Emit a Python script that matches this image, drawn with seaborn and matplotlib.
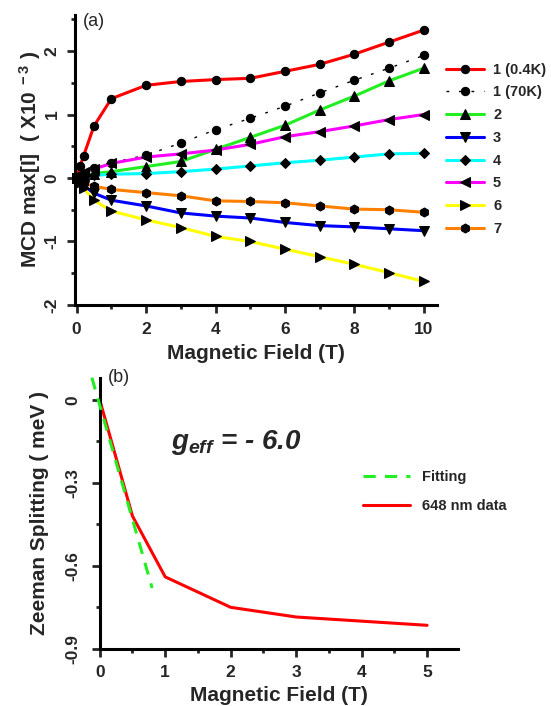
import matplotlib
matplotlib.use("Agg")
import matplotlib.pyplot as plt
import seaborn as sns
from matplotlib.ticker import MultipleLocator

# Panel (a) data: MCD max vs field
field = [0, 0.1, 0.2, 0.5, 1, 2, 3, 4, 5, 6, 7, 8, 9, 10]
mcd_1_04k = [0, 0.19, 0.35, 0.82, 1.25, 1.46, 1.52, 1.55, 1.57, 1.68, 1.79, 1.95, 2.14, 2.33]
mcd_1_70k = [0, 0.03, 0.06, 0.15, 0.24, 0.36, 0.55, 0.76, 0.94, 1.13, 1.34, 1.54, 1.73, 1.93]
mcd_2 = [0, 0.02, 0.04, 0.07, 0.10, 0.18, 0.26, 0.45, 0.64, 0.83, 1.07, 1.29, 1.53, 1.73]
mcd_3 = [0, -0.06, -0.12, -0.24, -0.35, -0.44, -0.55, -0.60, -0.63, -0.70, -0.75, -0.77, -0.80, -0.83]
mcd_4 = [0, 0.01, 0.02, 0.04, 0.06, 0.07, 0.10, 0.14, 0.19, 0.24, 0.28, 0.33, 0.38, 0.39]
mcd_5 = [0, 0.06, 0.10, 0.14, 0.23, 0.33, 0.38, 0.44, 0.53, 0.65, 0.73, 0.82, 0.92, 1.00]
mcd_6 = [0, -0.08, -0.16, -0.35, -0.52, -0.66, -0.78, -0.92, -1.00, -1.12, -1.24, -1.36, -1.49, -1.63]
mcd_7 = [0, -0.05, -0.08, -0.13, -0.18, -0.23, -0.28, -0.36, -0.37, -0.39, -0.44, -0.49, -0.50, -0.54]

# Panel (b) data: Zeeman splitting
field_b = [0, 0.5, 1, 2, 3, 4, 5]
zeeman = [0, -0.42, -0.64, -0.75, -0.785, -0.80, -0.815]
fit_field = [-0.12, 0.8]
fit_zeeman = [0.08, -0.68]

sns.set_style("ticks")
plt.rcParams['font.family'] = ['Liberation Sans', 'DejaVu Sans']
plt.rcParams['font.weight'] = 'bold'
plt.rcParams['axes.unicode_minus'] = False
plt.rcParams['mathtext.fontset'] = 'custom'
plt.rcParams['mathtext.rm'] = 'Liberation Sans:bold'
plt.rcParams['mathtext.it'] = 'Liberation Sans:italic:bold'
plt.rcParams['mathtext.bf'] = 'Liberation Sans:bold'

fig = plt.figure(figsize=(5.51, 7.06), dpi=100)
ax1 = fig.add_axes([0.136, 0.568, 0.657, 0.411])
ax2 = fig.add_axes([0.181, 0.081, 0.650, 0.384])

series = [
    (mcd_1_04k, '1 (0.4K)', 'red', 'o', '-'),
    (mcd_1_70k, '1 (70K)', 'black', 'o', (0, (2, 7))),
    (mcd_2, '2', '#22ee22', '^', '-'),
    (mcd_3, '3', 'blue', 'v', '-'),
    (mcd_4, '4', 'cyan', 'D', '-'),
    (mcd_5, '5', 'magenta', '<', '-'),
    (mcd_6, '6', 'yellow', '>', '-'),
    (mcd_7, '7', '#ff8000', 'h', '-'),
]

for vals, lab, col, mk, ls in series:
    lw = 1.0 if lab == '1 (70K)' else 2.2
    ms = {'o': 6, 'h': 6.5, 'D': 5.5}.get(mk, 7)
    sns.lineplot(x=field, y=vals, ax=ax1, color=col, linestyle=ls, linewidth=lw,
                 marker=mk, markersize=ms, markerfacecolor='black',
                 markeredgecolor='black', label=lab, clip_on=False)

ax1.set_xlim(-0.05, 10.38)
ax1.set_ylim(-2, 2.57)
ax1.xaxis.set_major_locator(MultipleLocator(2))
ax1.xaxis.set_minor_locator(MultipleLocator(1))
ax1.yaxis.set_major_locator(MultipleLocator(1))
ax1.yaxis.set_minor_locator(MultipleLocator(0.5))
ax1.set_xlabel('Magnetic Field (T)', fontsize=15, fontweight='bold', labelpad=5)
ax1.set_ylabel(r'MCD max[I]  ( X10$^{\ -3}$ )', fontsize=15, fontweight='bold', labelpad=1)
ax1.text(0.022, 0.976, '(a)', transform=ax1.transAxes, fontsize=13,
         fontweight='normal', va='center', ha='left')
ax1.legend(loc='upper left', bbox_to_anchor=(1.01, 0.855), frameon=False,
           fontsize=10.5, handlelength=2.6, labelspacing=0.6, handletextpad=0.6,
           borderaxespad=0)

# Panel (b)
sns.lineplot(x=fit_field, y=fit_zeeman, ax=ax2, color='#22ee22', linewidth=2.2,
             linestyle=(0, (4, 3)), label='Fitting', clip_on=False, zorder=3)
sns.lineplot(x=field_b, y=zeeman, ax=ax2, color='red', linewidth=2.2,
             label='648 nm data', clip_on=False, zorder=2)
ax2.set_xlim(0, 5.47)
ax2.set_ylim(-0.9, 0.08)
ax2.xaxis.set_major_locator(MultipleLocator(1))
ax2.xaxis.set_minor_locator(MultipleLocator(0.5))
ax2.yaxis.set_minor_locator(MultipleLocator(0.15))
ax2.set_yticks([0, -0.3, -0.6, -0.9])
ax2.set_yticklabels(['0', '-0.3', '-0.6', '-0.9'])
ax2.set_xlabel('Magnetic Field (T)', fontsize=15, fontweight='bold', labelpad=4)
ax2.set_ylabel('Zeeman Splitting ( meV )', fontsize=15, fontweight='bold', labelpad=12)
ax2.text(0.022, 1.0, '(b)', transform=ax2.transAxes, fontsize=13,
         fontweight='normal', va='center', ha='left')
ax2.text(0.2, 0.76, r'$g_{eff}$ = - 6.0', transform=ax2.transAxes, fontsize=20,
         fontstyle='italic', fontweight='bold', va='center')
ax2.legend(loc='upper left', bbox_to_anchor=(0.72, 0.68), frameon=False,
           fontsize=10.5, handlelength=3.2, labelspacing=1.0, handletextpad=0.8,
           borderaxespad=0)

for ax, ypad in ((ax1, 5), (ax2, 8)):
    sns.despine(ax=ax)
    for s in ('left', 'bottom'):
        ax.spines[s].set_linewidth(2.2)
        ax.spines[s].set_color('black')
    ax.tick_params(which='major', length=6, width=2, direction='out', labelsize=12.5)
    ax.tick_params(which='minor', length=3, width=2, direction='out')
    ax.tick_params(axis='x', pad=6)
    ax.tick_params(axis='y', labelrotation=90, pad=ypad)
    for lbl in ax.get_xticklabels() + ax.get_yticklabels():
        lbl.set_fontweight('bold')
    for lbl in ax.get_yticklabels():
        lbl.set_va('center')

fig.savefig('out.png', dpi=100)
